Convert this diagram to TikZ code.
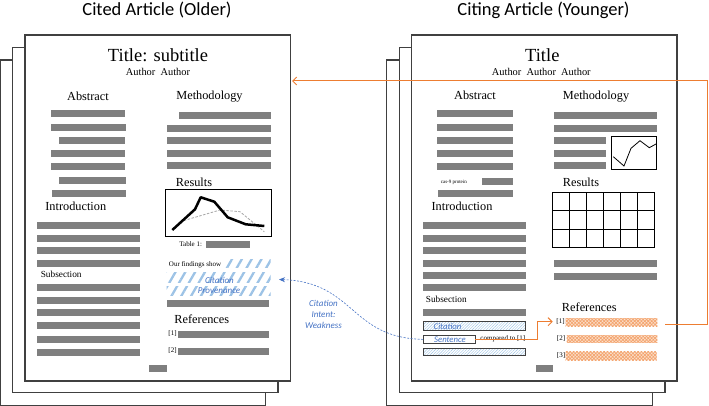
\documentclass[tikz,border=0pt]{standalone}
\usepackage{fontspec}
\setmainfont{Liberation Serif}
\newfontfamily\calfont{Carlito}
\usetikzlibrary{arrows.meta,patterns.meta}
\definecolor{barc}{HTML}{7F7F7F}
\definecolor{pagec}{HTML}{404040}
\definecolor{orc}{HTML}{ED7D31}
\definecolor{orl}{HTML}{FBE0CC}
\definecolor{orh}{HTML}{F4A46E}
\definecolor{bluc}{HTML}{4472C4}
\definecolor{hatchb}{HTML}{9DC3E6}
\newcommand\gb[3]{\fill[barc] (#1,{#3-3.5}) rectangle (#2,{#3+3.5});}
\begin{document}
\begin{tikzpicture}[x=1pt,y=-1pt,
  page/.style={draw=pagec,fill=white,line width=1.2pt},
  hdr/.style={inner sep=0pt,font=\calfont\fontsize{18.5}{22}\selectfont},
  ttl/.style={inner sep=0pt,font=\fontsize{18.5}{22}\selectfont},
  auth/.style={inner sep=0pt,font=\fontsize{10.4}{12}\selectfont},
  sec/.style={inner sep=0pt,font=\fontsize{12.3}{14}\selectfont},
  subsec/.style={inner sep=0pt,font=\fontsize{9.3}{11}\selectfont},
  small/.style={inner sep=0pt,font=\fontsize{7}{8}\selectfont},
  xsmall/.style={inner sep=0pt,font=\fontsize{5}{6}\selectfont},
  cit/.style={inner sep=0pt,text=bluc,font=\calfont\itshape\fontsize{9}{10}\selectfont},
  wide hatch/.style={pattern={Lines[angle=60,distance=8.5pt,line width=2.3pt]},pattern color=hatchb},
  fine hatch/.style={draw=pagec,line width=0.6pt,pattern={Lines[angle=45,distance=2pt,line width=0.4pt]},pattern color=hatchb},
  obar/.style={inner sep=0pt,fill=orl,postaction={pattern={Hatch[angle=45,distance=2.4pt,line width=0.7pt]},pattern color=orh}},
  oarr/.style={draw=orc,line width=1pt,-{Straight Barb[length=4pt,width=8pt,line width=1pt]}},
  barr/.style={draw=bluc,line width=0.6pt,dash pattern=on 2pt off 1.5pt,-{Stealth[length=6pt,width=5pt]}}
]
\useasboundingbox (0,0) rectangle (709,406);

% ---------------- left article -----------------
\path[page] (0.7,60) rectangle (265.7,405.3);
\path[page] (12.7,47.7) rectangle (278,392.3);
\path[page] (25,35) rectangle (290.7,381);

\node[hdr] (lhead) at (157,10) {Cited Article (Older)};
\node[ttl] (ltitle) at (158,55) {Title: subtitle};
\node[auth] (lauth) at (158,72) {Author\ \ Author};
\node[sec] (labs) at (88,96) {Abstract};
\node[sec] (lmeth) at (209.5,97) {Methodology};

\gb{50.7}{125.3}{113.3}
\gb{51}{126}{127.3}
\gb{58.7}{125.3}{140.7}
\gb{50.7}{125.3}{153.3}
\gb{50.7}{125.3}{166.7}
\gb{59.3}{126}{180.3}
\gb{51.7}{126}{193.3}

\gb{179}{270.7}{115.7}
\foreach \yy in {128.3,140.7,153.3,165.7} {\gb{167.3}{270.7}{\yy}}

\node[sec] (lres) at (194,182.5) {Results};
\draw[line width=1pt] (165.7,190) rectangle (271,236.7);
\draw[gray!70,line width=0.8pt,dash pattern=on 2.5pt off 1.5pt] (180,221.7) -- (220,210) -- (240,211.7) -- (264.3,231.7);
\draw[line width=2.5pt,line join=round] (172.3,230) -- (195,209.3) -- (200.7,197.3) -- (214.3,201.7) -- (227.7,217.3) -- (245.7,224.3) -- (264.3,226);

\node[small] (ltab) at (190.7,244) {Table 1:};
\gb{206}{250}{244}

\node[sec] (lintro) at (75.8,206.7) {Introduction};
\foreach \yy in {225.7,238.3,250.7,263} {\gb{36.7}{140}{\yy}}
\node[subsec] (lsub) at (61.2,274.7) {Subsection};
\foreach \yy in {287.3,300,312.7,325.3,339,352} {\gb{36.7}{140}{\yy}}

\node[small] (lfind) at (195,264.7) {Our findings show};
\path[wide hatch] (225.7,259.5) rectangle (270.7,267);
\path[wide hatch] (166.7,272.5) rectangle (270.7,282.5);
\path[wide hatch] (166.7,286.5) rectangle (270.7,295);
\node[cit] (lcit) at (219.5,280) {Citation};
\node[cit] (lprov) at (219,291) {Provenance};
\coordinate (cprov) at (279,279.5);

\gb{166.7}{269.3}{303.3}
\node[sec] (lrefs) at (201.8,319.3) {References};
\node[small] (lr1) at (172.5,333.5) {[1]};
\gb{178.3}{269}{334}
\node[small] (lr2) at (172.5,350.5) {[2]};
\gb{178.3}{269.3}{351}
\gb{149.3}{166.7}{368.7}

% ---------------- right article -----------------
\path[page] (386.7,60) rectangle (652.7,405.3);
\path[page] (399.3,47.7) rectangle (665,392.3);
\path[page] (411.7,35) rectangle (677,381);

\node[hdr] (rhead) at (543.5,10) {Citing Article (Younger)};
\node[ttl] (rtitle) at (542.3,55) {Title};
\node[auth] (rauth) at (541.3,71.7) {Author\ \ Author\ \ Author};
\node[sec] (rabs) at (475,95.7) {Abstract};
\node[sec] (rmeth) at (596,97) {Methodology};

\foreach \yy in {113.3,127.3,140.7,153.3,166.7} {\gb{437.3}{512.7}{\yy}}
\node[xsmall] (rcas) at (453.8,182.3) {cas-9 protein};
\gb{481.7}{512.7}{182}
\gb{437.7}{512.7}{193.3}

\gb{554}{657.3}{115.7}
\gb{554}{657.3}{128.3}
\foreach \yy in {140.7,153.3,165.7} {\gb{554}{606}{\yy}}
\draw[line width=0.8pt] (611.7,136.7) rectangle (656.7,169);
\draw[line width=0.8pt] (613.3,156.7) -- (624,166) -- (631,148.3) -- (640,140.7) -- (649.3,147.7) -- (656,144);

\node[sec] (rres) at (581,182.3) {Results};
\draw[line width=0.9pt] (552,192.3) rectangle (654.3,247.3);
\foreach \i in {1,...,5} {\draw[line width=0.9pt] ({552+\i*17.05},192.3) -- ({552+\i*17.05},247.3);}
\foreach \j in {1,2} {\draw[line width=0.9pt] (552,{192.3+\j*18.33}) -- (654.3,{192.3+\j*18.33});}
\gb{553.7}{656.7}{263.3}
\gb{553.7}{656.7}{276}

\node[sec] (rintro) at (462,206.7) {Introduction};
\foreach \yy in {225.7,238.3,250.7,263,275.7,287.7} {\gb{423.3}{526.3}{\yy}}
\node[subsec] (rsub) at (446.3,299.3) {Subsection};
\gb{423.3}{526.3}{312.7}

\path[fine hatch] (423.3,321.7) rectangle (525.7,330);
\node[cit,font=\calfont\itshape\fontsize{8.7}{10}\selectfont] (rcit) at (447.5,326.3) {Citation};
\node[draw=pagec,line width=0.6pt,fill=white,inner sep=0pt,minimum width=51.7pt,minimum height=7.3pt] (sent) at (449.15,339.35) {};
\node[cit,font=\calfont\itshape\fontsize{8.7}{10}\selectfont] (rsent) at (450,339.6) {Sentence};
\node[small] (rcomp) at (502.8,339) {compared to [1]};
\path[fine hatch] (423.3,348) rectangle (525.7,355);

\node[sec] (rrefs) at (589.3,307.3) {References};
\node[small] (rr1) at (560.5,321.7) {[1]};
\node[obar,minimum width=91.6pt,minimum height=7.7pt] (ref1) at (611.5,322.2) {};
\node[small] (rr2) at (561,338.5) {[2]};
\node[obar,minimum width=90.6pt,minimum height=7.7pt] (ref2) at (612,338.9) {};
\node[small] (rr3) at (561,355.5) {[3]};
\node[obar,minimum width=91pt,minimum height=8.3pt] (ref3) at (611.2,355.9) {};
\gb{536}{553.3}{368.7}

% ---------------- connectors -----------------
\coordinate (ostart) at (665,324.7);
\coordinate (oturn) at (707,81);
\coordinate (ctarget) at (292,81);
\draw[oarr] (ostart) -| (oturn) -- (ctarget);
\coordinate (obend) at (537.7,339.35);
\draw[oarr] (sent.east) -- (obend) |- ([xshift=-3.5pt]rr1.west);

\draw[barr] (sent.west) .. controls (350,338) and (355,282) .. (cprov);
\node[cit,align=center,font=\calfont\itshape\fontsize{9}{11.3}\selectfont] (intent) at (323.5,314.5) {Citation\\Intent:\\Weakness};
\end{tikzpicture}
\end{document}
